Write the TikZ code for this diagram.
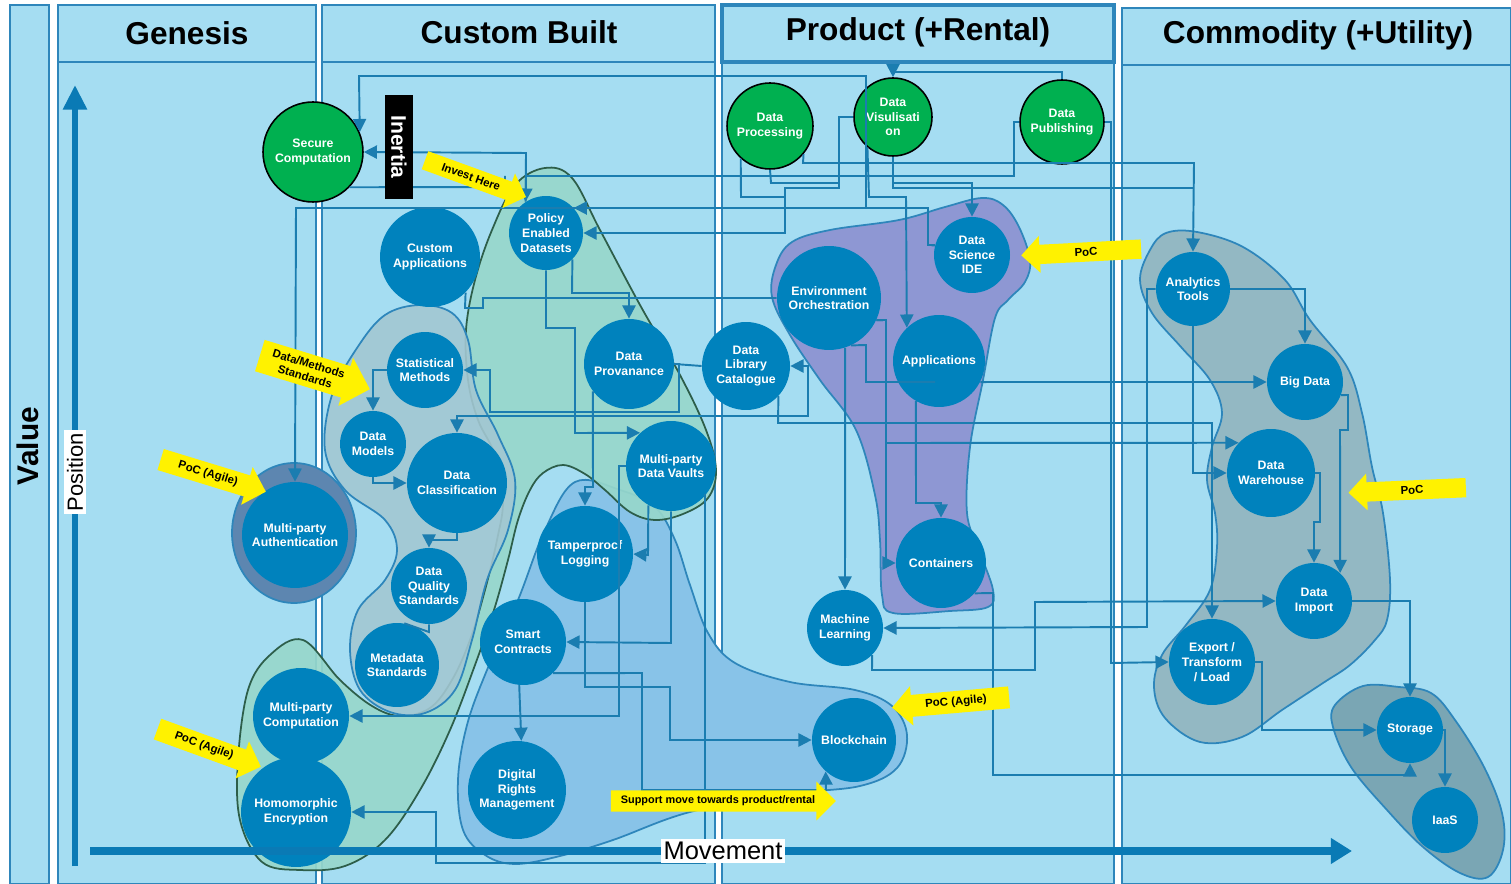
\documentclass[tikz,border=0pt]{standalone}
\usepackage{fontspec}
\setmainfont{Liberation Sans}
\usetikzlibrary{arrows.meta,shapes.arrows}
\definecolor{bgblue}{HTML}{A5DDF2}
\definecolor{colline}{HTML}{2E86BB}
\definecolor{nodeblue}{HTML}{0082BD}
\definecolor{linec}{HTML}{1B7DB0}
\definecolor{mgreen}{HTML}{00B050}
\definecolor{tealfill}{HTML}{97D7CB}
\definecolor{tealline}{HTML}{2D5E4A}
\definecolor{stdfill}{HTML}{A2C7D2}
\definecolor{ltblue}{HTML}{88C3E8}
\definecolor{purp}{HTML}{8E97D3}
\definecolor{grayb}{HTML}{93B8C3}
\definecolor{storb}{HTML}{7AA6B4}
\definecolor{slate}{HTML}{5D86B0}
\definecolor{axisblue}{HTML}{0A7AB5}
\begin{document}
\begin{tikzpicture}[x=0.02cm,y=-0.02cm,
  comp/.style={circle,fill=nodeblue,text=white,font=\bfseries\fontsize{7}{8.4}\selectfont,align=center,inner sep=0pt},
  gcomp/.style={comp,fill=mgreen,draw=black,line width=0.9pt},
  conn/.style={draw=linec,line width=1.1pt},
  arr/.style={-{Triangle[length=7.5pt,width=7.5pt]}},
  arrboth/.style={{Triangle[length=7.5pt,width=7.5pt]}-{Triangle[length=7.5pt,width=7.5pt]}},
  colbox/.style={fill=bgblue,draw=colline,line width=1.2pt},
  hdr/.style={font=\bfseries\fontsize{18}{20}\selectfont},
  blob/.style={draw=colline,line width=1pt},
  yarrow/.style={single arrow,fill=yellow,draw=none,text=black,font=\bfseries\fontsize{6.5}{7.5}\selectfont,align=center,inner xsep=2pt,inner ysep=3pt,single arrow head extend=5pt}
]
\useasboundingbox (0,0) rectangle (1511,884);
\fill[white] (0,0) rectangle (1511,884);
% columns
\draw[colbox] (10,5) rectangle (49,884);
\draw[colbox] (58,5) rectangle (316,884);
\draw[colbox] (58,5) rectangle (316,62);
\draw[colbox] (322,5) rectangle (715,884);
\draw[colbox] (322,5) rectangle (715,62);
\draw[colbox] (722,5) rectangle (1114,884);
\draw[colbox,line width=1.8pt] (722,5) rectangle (1114,62);
\draw[colbox] (1122,8) rectangle (1511,884);
\draw[colbox] (1122,8) rectangle (1511,65);
\node[hdr] (hgen) at (187,33) {Genesis};
\node[hdr] (hcus) at (519,32) {Custom Built};
\node[hdr] (hpro) at (918,32) {Product (+Rental)};
\node[hdr] (hcom) at (1318,35) {Commodity (+Utility)};

% blobs
\filldraw[blob,fill=ltblue] plot[smooth cycle,tension=0.6] coordinates {(575,482) (620,490) (655,507) (675,540) (690,585) (708,633) (735,663) (790,682) (855,690) (892,706) (907,735) (897,768) (860,786) (790,794) (690,812) (613,840) (560,856) (515,864) (485,855) (463,830) (458,780) (467,725) (487,670) (518,600) (545,530)};
\filldraw[draw=tealline,line width=1pt,fill=tealfill,fill opacity=0.92] plot[smooth cycle,tension=0.6] coordinates {(545,168) (572,178) (600,230) (640,305) (680,375) (706,430) (716,470) (708,498) (683,514) (655,520) (630,512) (605,490) (585,474) (563,465) (543,473) (530,490) (518,520) (508,560) (494,610) (475,665) (450,730) (420,790) (385,840) (345,866) (300,870) (262,862) (240,820) (238,760) (248,690) (270,655) (303,640) (340,680) (372,706) (400,716) (430,708) (452,680) (470,640) (485,590) (497,540) (503,500) (495,455) (478,420) (468,380) (466,330) (475,280) (492,230) (515,185)};
\filldraw[blob,fill=stdfill,fill opacity=0.9] plot[smooth cycle,tension=0.6] coordinates {(420,305) (452,313) (468,340) (476,390) (498,435) (515,480) (508,530) (487,580) (472,640) (455,690) (425,713) (390,712) (360,690) (350,650) (358,610) (385,580) (397,550) (385,520) (345,490) (325,450) (332,395) (357,348) (385,315)};
\filldraw[blob,fill=purp] plot[smooth cycle,tension=0.6] coordinates {(772,297) (776,265) (792,242) (830,230) (899,220) (945,207) (982,198) (1003,205) (1019,227) (1030,260) (1025,282) (1008,300) (995,318) (983,380) (970,447) (967,513) (979,550) (993,590) (988,607) (950,611) (893,613) (882,595) (880,540) (875,495) (856,430) (820,380) (790,335)};
\filldraw[blob,fill=grayb] plot[smooth cycle,tension=0.6] coordinates {(1140,280) (1150,250) (1166,233) (1197,232) (1243,247) (1285,280) (1310,320) (1347,367) (1362,413) (1372,467) (1383,513) (1390,580) (1387,620) (1375,640) (1350,665) (1323,683) (1282,710) (1242,737) (1200,742) (1165,718) (1154,687) (1162,655) (1186,625) (1210,590) (1217,547) (1215,513) (1207,480) (1212,447) (1222,413) (1210,380) (1181,347) (1152,313)};
\filldraw[blob,fill=storb] plot[smooth cycle,tension=0.6] coordinates {(1335,705) (1363,686) (1399,687) (1431,693) (1455,720) (1484,767) (1502,813) (1503,850) (1488,877) (1460,873) (1423,847) (1387,810) (1351,767) (1333,727)};
\filldraw[blob,fill=slate] (294,533) ellipse [x radius=1.24cm,y radius=1.4cm];

% nodes
\node[gcomp,minimum size=2cm] (sc) at (313,152) {Secure\\Computation};
\node[gcomp,minimum size=1.72cm] (dp) at (770,126) {Data\\Processing};
\node[gcomp,minimum size=1.56cm] (dv) at (893,117) {Data\\Visulisati\\on};
\node[gcomp,minimum size=1.68cm] (dpub) at (1062,122) {Data\\Publishing};
\node[comp,minimum size=1.48cm] (ped) at (546,233) {Policy\\Enabled\\Datasets};
\node[comp,minimum size=2cm] (ca) at (430,257) {Custom\\Applications};
\node[comp,minimum size=1.52cm] (sm) at (425,370) {Statistical\\Methods};
\node[comp,minimum size=1.32cm] (dm) at (373,444) {Data\\Models};
\node[comp,minimum size=2cm] (dc) at (457,483) {Data\\Classification};
\node[comp,minimum size=1.52cm] (dqs) at (429,586) {Data\\Quality\\Standards};
\node[comp,minimum size=1.68cm] (ms) at (397,665) {Metadata\\Standards};
\node[comp,minimum size=1.8cm] (prov) at (629,364) {Data\\Provanance};
\node[comp,minimum size=1.76cm] (dlc) at (746,366) {Data\\Library\\Catalogue};
\node[comp,minimum size=1.8cm] (mpdv) at (671,466) {Multi-party\\Data Vaults};
\node[comp,minimum size=1.92cm] (tl) at (585,554) {Tamperprocf\\Logging};
\node[comp,minimum size=1.72cm] (smc) at (523,642) {Smart\\Contracts};
\node[comp,minimum size=1.96cm] (drm) at (517,790) {Digital\\Rights\\Management};
\node[comp,minimum size=2.12cm] (mpa) at (295,535) {Multi-party\\Authentication};
\node[comp,minimum size=1.92cm] (mpc) at (301,716) {Multi-party\\Computation};
\node[comp,minimum size=2.2cm] (he) at (296,812) {Homomorphic\\Encryption};
\node[comp,minimum size=2.08cm] (eo) at (829,298) {Environment\\Orchestration};
\node[comp,minimum size=1.52cm] (dsi) at (972,255) {Data\\Science\\IDE};
\node[comp,minimum size=1.84cm] (app) at (939,361) {Applications};
\node[comp,minimum size=1.8cm] (cont) at (941,563) {Containers};
\node[comp,minimum size=1.52cm] (ml) at (845,628) {Machine\\Learning};
\node[comp,minimum size=1.68cm] (bc) at (854,740) {Blockchain};
\node[comp,minimum size=1.48cm] (at) at (1193,289) {Analytics\\Tools};
\node[comp,minimum size=1.52cm] (bd) at (1305,382) {Big Data};
\node[comp,minimum size=1.76cm] (dw) at (1271,473) {Data\\Warehouse};
\node[comp,minimum size=1.52cm] (di) at (1314,601) {Data\\Import};
\node[comp,minimum size=1.72cm] (etl) at (1212,662) {Export /\\Transform\\/ Load};
\node[comp,minimum size=1.32cm] (st) at (1410,730) {Storage};
\node[comp,minimum size=1.32cm] (iaas) at (1445,820) {IaaS};

% connectors (behind nodes)
\begin{scope}[on background layer/.try]
\end{scope}
\begin{pgfonlayer}{main}\end{pgfonlayer}

\draw[conn,arr] (dpub.north) -- (1062,72) -- (893,72) -- (dv.north);
\draw[conn,arr] (dsi.165) -- (928,245) -- (928,208) -- (296,208) -- (mpa.north);
\draw[conn,arr] (dsi.165) -- (928,245) -- (928,208) -- (ped.42);
\draw[conn,arr] (dsi.165) -- (928,245) -- (928,208) -- (866,208) -- (866,76) -- (359,76) -- (sc.23);
\draw[conn,arr] (ped.123) -- (526,153) -- (sc.east);
\draw[conn,arr] (dpub.west) -- (1014,122) -- (1014,176) -- (526,176) -- (ped.123);
\draw[conn] (sc.-44) -- (505,187) -- (505,176);
\draw[conn,arr] (dv.west) -- (839,117) -- (839,188) -- (785,188) -- (785,233) -- (ped.east);
\draw[conn] (dp.-132) -- (741,197) -- (785,197);
\draw[conn] (dp.south) -- (771,183) -- (839,183);
\draw[conn,arr] (ped.-45) -- (572,293) -- (629,293) -- (prov.north);
\draw[conn,arr] (ped.south) -- (546,328) -- (575,328) -- (575,433) -- (mpdv.133);
\draw[conn] (ca.-45) -- (465,308) -- (483,308) -- (483,298) -- (eo.west);
\draw[conn,arr] (prov.east) -- (679,364) -- (679,412) -- (490,412) -- (490,370) -- (sm.east);
\draw[conn,arrboth] (dc.north) -- (457,416) -- (808,416) -- (808,366) -- (dlc.east);
\draw[conn,arr] (sm.west) -- (373,370) -- (dm.north);
\draw[conn,arr] (dm.south) -- (373,483) -- (dc.west);
\draw[conn,arr] (dc.south) -- (457,540) -- (429,540) -- (dqs.north);
\draw[conn] (dqs.south) -- (429,632) -- (ms.80);
\draw[conn] (prov.east) -- (dlc.west);
\draw[conn,arr] (prov.-143) -- (593,487) -- (585,487) -- (tl.north);
\draw[conn,arr] (mpdv.south) -- (671,643) -- (smc.east);
\draw[conn,arr] (mpdv.-120) -- (648,555) -- (tl.east);
\draw[conn,arr] (tl.south) -- (585,687) -- (670,687) -- (670,740) -- (bc.west);
\draw[conn,arr] (smc.-95) -- (drm.85);
\draw[conn,arr] (smc.-46) -- (642,673) -- (642,790) -- (826,790) -- (bc.-132);
\draw[conn,arr] (mpdv.west) -- (619,466) -- (619,716) -- (mpc.east);
\draw[conn,arr] (mpdv.-40) -- (705,495) -- (705,863) -- (436,863) -- (436,812) -- (he.east);
\draw[conn,arr] (dv.south) -- (893,183) -- (972,183) -- (dsi.north);
\draw[conn,arr] (dv.-130) -- (869,197) -- (906,197) -- (app.134);
\draw[conn,arr] (dp.-40) -- (803,163) -- (1194,163) -- (at.north);
\draw[conn] (dv.south) -- (893,188) -- (1194,188);
\draw[conn,arr] (dpub.east) -- (1111,122) -- (1111,663) -- (etl.west);
\draw[conn,arr] (at.west) -- (1147,289) -- (1147,627) -- (ml.east);
\draw[conn,arr] (at.east) -- (1305,289) -- (bd.north);
\draw[conn,arr] (at.south) -- (1193,473) -- (dw.west);
\draw[conn,arr] (bd.-20) -- (1348,395) -- (1348,430) -- (1340,430) -- (di.47);
\draw[conn,arr] (dw.east) -- (1320,473) -- (1320,522) -- (1314,522) -- (di.north);
\draw[conn,arr] (di.east) -- (1410,601) -- (st.north);
\draw[conn,arr] (etl.east) -- (1262,662) -- (1262,730) -- (st.west);
\draw[conn,arr] (st.east) -- (1445,730) -- (iaas.north);
\draw[conn,arr] (dlc.-43) -- (778,423) -- (1212,423) -- (etl.north);
\draw[conn,arr] (eo.-25) -- (886,320) -- (886,443) -- (dw.137);
\draw[conn,arr] (eo.-25) -- (886,320) -- (886,563) -- (cont.west);
\draw[conn,arr] (app.-120) -- (916,503) -- (941,503) -- (cont.north);
\draw[conn,arr] (app.-27) -- (bd.west);
\draw[conn] (eo.-65) -- (866,345) -- (866,382) -- (935,382);
\draw[conn,arr] (eo.-72) -- (ml.north);
\draw[conn,arr] (cont.-42) -- (993,593) -- (993,775) -- (1410,775) -- (st.south);
\draw[conn,arr] (ml.-45) -- (872,670) -- (1035,670) -- (1035,602) -- (di.west);

% axes
\coordinate (vbot) at (75,866);
\coordinate (vtop) at (75,85);
\coordinate (mleft) at (90,851);
\coordinate (mright) at (1352,851);
\draw[draw=axisblue,line width=3.4pt,-{Triangle[length=14pt,width=13pt]}] (vbot) -- (vtop);
\draw[draw=axisblue,line width=5pt,-{Triangle[length=12pt,width=14pt]}] (mleft) -- (mright);
\node[rotate=90,font=\bfseries\fontsize{17}{20}\selectfont] (lval) at (28,446) {Value};
\node[rotate=90,fill=white,font=\fontsize{12.5}{14}\selectfont,inner sep=1.5pt] (lpos) at (75,472) {Position};
\node[fill=white,font=\fontsize{14.5}{16}\selectfont,inner sep=1.5pt] (lmov) at (723,851) {Movement};
\node[fill=black,text=white,rotate=-90,font=\bfseries\fontsize{12}{14}\selectfont,minimum width=2.1cm,minimum height=0.56cm,inner sep=0pt] (inert) at (399,147) {Inertia};

% yellow arrows
\node[yarrow,rotate=-20,minimum height=2.15cm] (yinv) at (471,177) {Invest Here};
\node[yarrow,rotate=-17,minimum height=2.3cm] (ydm) at (307,370) {Data/Methods\\Standards};
\node[yarrow,rotate=-17,minimum height=2.2cm] (ypa1) at (208,474) {PoC (Agile)};
\node[yarrow,rotate=-20,minimum height=2.2cm] (ypa2) at (204,746) {PoC (Agile)};
\node[yarrow,rotate=3,shape border rotate=180,minimum height=2.4cm] (ypoc1) at (1086,252) {PoC};
\node[yarrow,rotate=5,shape border rotate=180,minimum height=2.35cm] (ypa3) at (956,702) {PoC (Agile)};
\node[yarrow,rotate=2.5,shape border rotate=180,minimum height=2.35cm] (ypoc2) at (1412,490) {PoC};
\node[yarrow,minimum height=4.5cm,font=\bfseries\fontsize{6.2}{7}\selectfont,inner xsep=0pt] (ysup) at (718,801) {Support move towards product/rental};
\end{tikzpicture}
\end{document}
